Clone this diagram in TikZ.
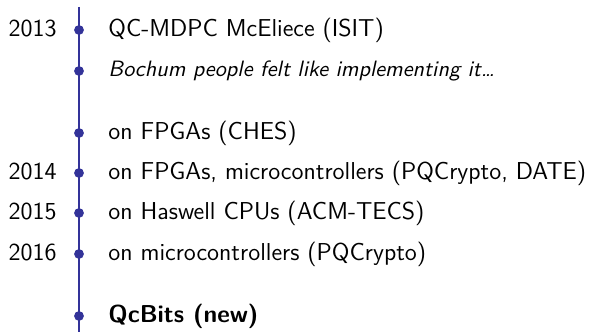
\documentclass[tikz,border=0pt]{standalone}
\usepackage{xcolor}
\usepackage{tikz}
\usetikzlibrary{positioning}
\definecolor{tlblue}{RGB}{51,51,153}

\begin{document}
\begin{tikzpicture}[x=0.45pt, y=-0.45pt, font=\sffamily\fontsize{11}{13}\selectfont, dot/.style={circle, fill=tlblue, inner sep=0pt, minimum size=4.4pt}, year/.style={anchor=base east, inner sep=0pt}, item/.style={anchor=base west, inner sep=0pt}]
\useasboundingbox (0,0) rectangle (602,332);
\coordinate (top) at (79,7);
\coordinate (bot) at (79,332);
\draw[tlblue, line width=0.9pt] (top) -- (bot);
\node[dot] (d1) at (79,30) {};
\node[dot] (d2) at (79,71) {};
\node[dot] (d3) at (79,133) {};
\node[dot] (d4) at (79,173) {};
\node[dot] (d5) at (79,213) {};
\node[dot] (d6) at (79,254) {};
\node[dot] (d7) at (79,316) {};
\node[year] (y1) at (57,37) {2013};
\node[year] (y4) at (57,180) {2014};
\node[year] (y5) at (57,220) {2015};
\node[year] (y6) at (57,261) {2016};
\node[item] (t1) at (108,37) {QC-MDPC McEliece (ISIT)};
\node[item, font=\sffamily\fontsize{10}{12}\selectfont\itshape] (t2) at (108,77) {Bochum people felt like implementing it\dots};
\node[item] (t3) at (108,140) {on FPGAs (CHES)};
\node[item] (t4) at (108,180) {on FPGAs, microcontrollers (PQCrypto, DATE)};
\node[item] (t5) at (108,220) {on Haswell CPUs (ACM-TECS)};
\node[item] (t6) at (108,261) {on microcontrollers (PQCrypto)};
\node[item, font=\sffamily\fontsize{11}{13}\selectfont\bfseries] (t7) at (108,323) {QcBits (new)};
\end{tikzpicture}
\end{document}
